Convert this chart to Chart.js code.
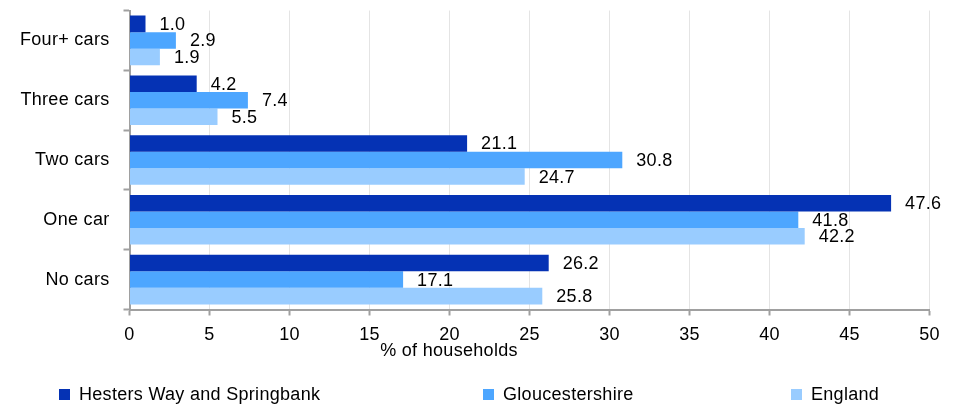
<!DOCTYPE html>
<html>
<head>
<meta charset="utf-8">
<script src="https://cdn.jsdelivr.net/npm/chart.js@4.4.0/dist/chart.umd.min.js"></script>
<style>
  html, body { margin: 0; padding: 0; background: #fff; }
  #wrap { width: 958px; height: 407px; position: relative; }
</style>
</head>
<body>
<div id="wrap"><canvas id="chart"></canvas></div>
<script>
// Chart data
const categories = ['Four+ cars', 'Three cars', 'Two cars', 'One car', 'No cars'];
const hestersWay = [1.0, 4.2, 21.1, 47.6, 26.2];
const gloucestershire = [2.9, 7.4, 30.8, 41.8, 17.1];
const england = [1.9, 5.5, 24.7, 42.2, 25.8];
const seriesNames = ['Hesters Way and Springbank', 'Gloucestershire', 'England'];
const seriesColours = ['#0532B4', '#4DA6FF', '#99CCFF'];
const axisTitle = '% of households';

const FONT = '"Liberation Sans", Arial, sans-serif';
const axisGrey = '#a0a0a0';
const legendX = [59, 483, 791];

// slightly wider text, like the original rendering
const spacing = {
    id: 'spacing',
    beforeDraw(chart) { chart.ctx.letterSpacing = '0.3px'; }
};

// value labels at the end of each bar
const valueLabels = {
    id: 'valueLabels',
    afterDatasetsDraw(chart) {
        const ctx = chart.ctx;
        ctx.save();
        ctx.font = `18px ${FONT}`;
        ctx.fillStyle = '#000';
        ctx.textAlign = 'left';
        ctx.textBaseline = 'middle';
        chart.data.datasets.forEach((ds, i) => {
            const meta = chart.getDatasetMeta(i);
            meta.data.forEach((bar, j) => {
                ctx.fillText(ds.data[j].toFixed(1), bar.x + 14, bar.y + 1);
            });
        });
        ctx.restore();
    }
};

// axis title and legend placed like the original
const extras = {
    id: 'extras',
    afterDraw(chart) {
        const ctx = chart.ctx;
        ctx.save();
        ctx.font = `18px ${FONT}`;
        ctx.fillStyle = '#000';
        ctx.textBaseline = 'middle';
        ctx.textAlign = 'center';
        ctx.fillText(axisTitle, 449, 351);

        ctx.textAlign = 'left';
        chart.data.datasets.forEach((ds, i) => {
            const x = legendX[i];
            ctx.fillStyle = ds.backgroundColor;
            ctx.fillRect(x, 389, 11, 11);
            ctx.fillStyle = '#000';
            ctx.fillText(ds.label, x + 20, 395.5);
        });
        ctx.restore();
    }
};

const datasets = [hestersWay, gloucestershire, england].map((values, i) => ({
    label: seriesNames[i],
    data: values,
    backgroundColor: seriesColours[i],
    borderWidth: 0,
    categoryPercentage: 0.83,
    barPercentage: 1.0
}));

new Chart(document.getElementById('chart'), {
    type: 'bar',
    data: { labels: categories, datasets },
    plugins: [spacing, valueLabels, extras],
    options: {
        indexAxis: 'y',
        responsive: true,
        maintainAspectRatio: false,
        animation: false,
        layout: { padding: { top: 10.5, right: 28.5, bottom: 57.5, left: 0 } },
        plugins: {
            legend: { display: false },
            tooltip: { enabled: false }
        },
        scales: {
            x: {
                min: 0,
                max: 50,
                ticks: { stepSize: 5, color: '#000', padding: 9, font: { family: FONT, size: 18 } },
                grid: { color: '#e4e4e4', lineWidth: 1, tickColor: axisGrey, tickWidth: 2, tickLength: 6 },
                border: { color: axisGrey, width: 2 },
                afterFit(scale) { scale.height = 40; }
            },
            y: {
                ticks: { color: '#000', padding: 14, font: { family: FONT, size: 18 } },
                grid: { drawOnChartArea: false, tickColor: axisGrey, tickWidth: 2, tickLength: 6 },
                border: { color: axisGrey, width: 2 },
                afterFit(scale) {
                    scale.width = 129.5;
                    scale.paddingTop = 0;
                    scale.paddingBottom = 0;
                }
            }
        }
    }
});
</script>
</body>
</html>
